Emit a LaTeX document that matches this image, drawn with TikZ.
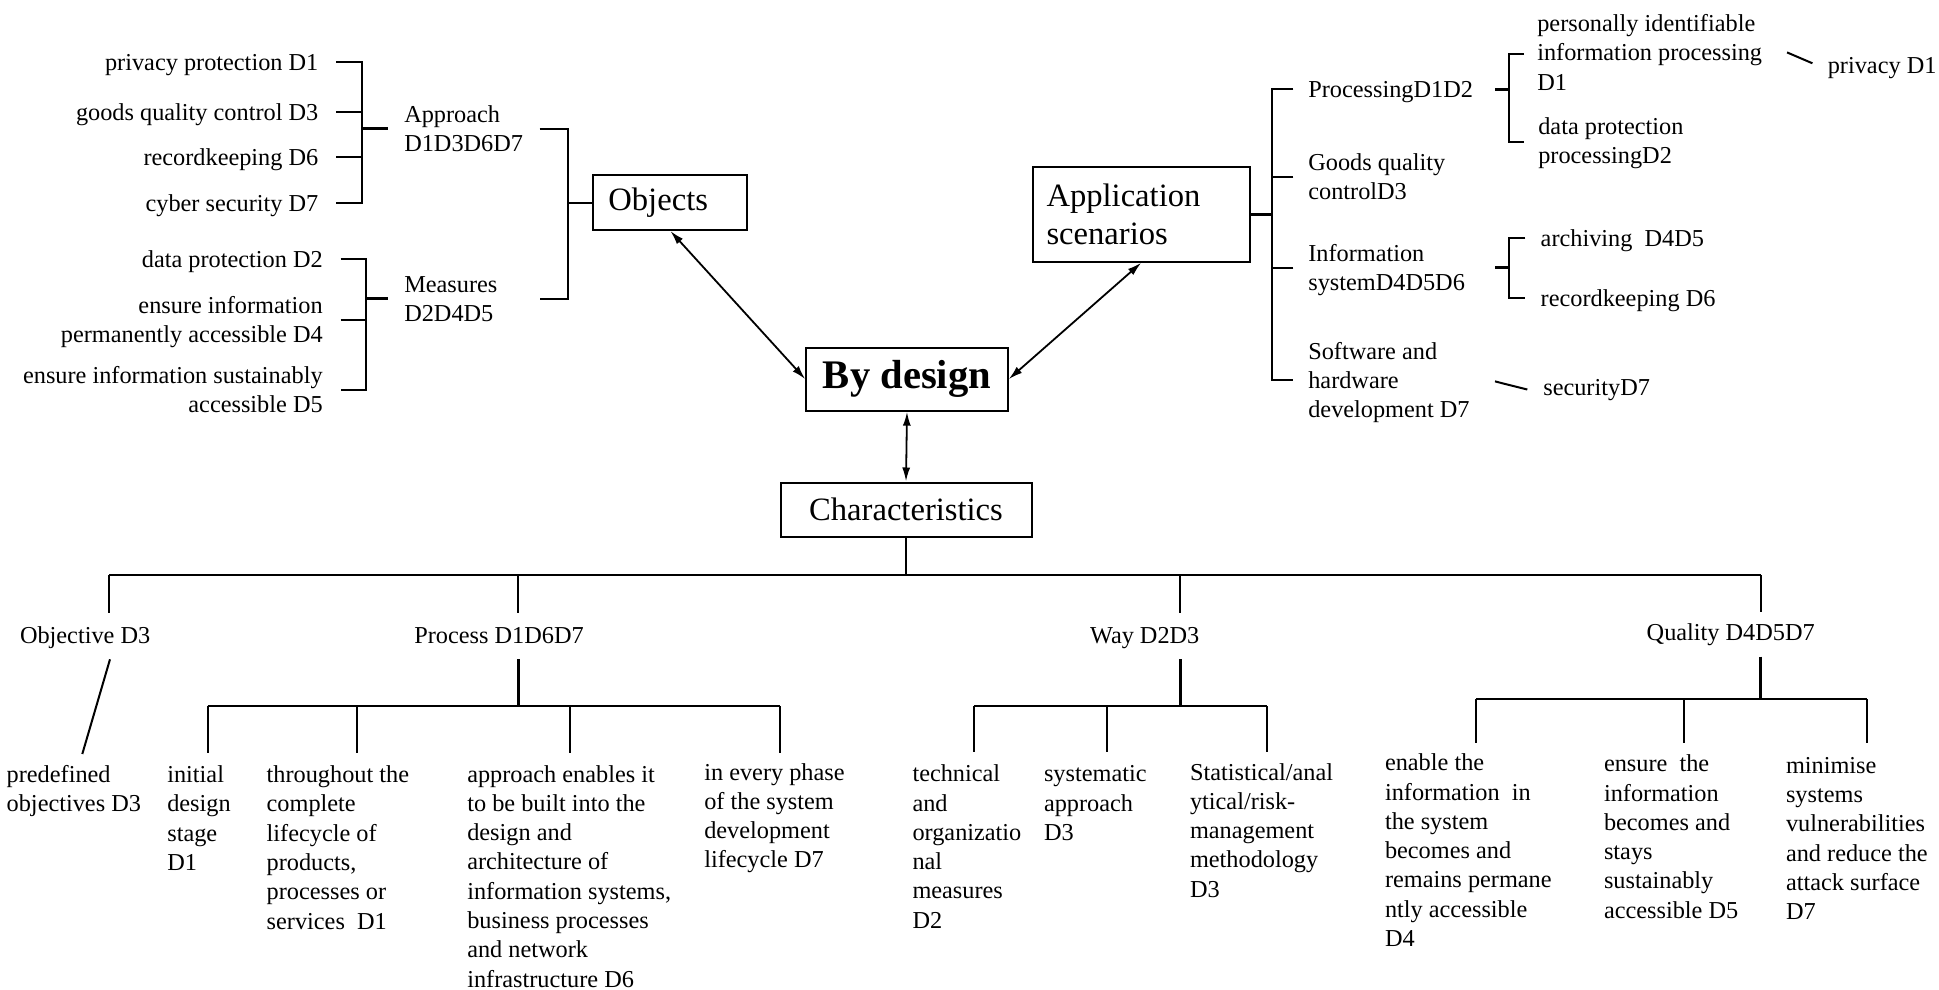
\documentclass[tikz,border=0pt]{standalone}
\usepackage{fontspec}
\setmainfont{Liberation Serif}
\usetikzlibrary{arrows.meta}
\newcommand\bodyfont{\fontsize{24.3}{29.3}\selectfont}
\newcommand\boxfont{\fontsize{32.6}{38.3}\selectfont}
\newcommand\titlefont{\fontsize{40.6}{48}\selectfont\bfseries}
% line strut: 23.05pt above the baseline, 6.25pt below
\newcommand\ls{\rule[-6.25pt]{0pt}{29.3pt}}

\begin{document}
\begin{tikzpicture}[x=1pt,y=-1pt,
  % a text node is placed by the baseline of its first line
  txt/.style={inner sep=0pt, outer sep=0pt, align=left, font=\bodyfont,
    anchor=north west, yshift=23.05pt,
    execute at begin node=\ls, execute at end node=\ls},
  txtr/.style={txt, align=right, anchor=north east},
  box/.style={draw, line width=2pt, inner sep=0pt},
  ln/.style={line width=2pt},
  stubw/.style={line width=3pt},
  busln/.style={line width=2.6pt},
  dblarrow/.style={line width=1.8pt, {Latex[length=14pt,width=8pt]}-{Latex[length=14pt,width=8pt]}},
]
\path[use as bounding box] (0,0) rectangle (1939,990);

% ---------- central boxes ----------
\node[box, font=\boxfont, minimum width=154pt, minimum height=55pt, text width=124pt, align=left] (obj) at (670.4,202.5) {Objects};
\node[box, font=\titlefont, minimum width=201.4pt, minimum height=63pt] (bd) at (907,379.2) {By design};
\node[box, font=\boxfont, minimum width=216.6pt, minimum height=95pt, text width=189.6pt, align=left] (app) at (1141.3,214.2) {Application\\scenarios};
\node[box, font=\boxfont, minimum width=251pt, minimum height=54pt] (ch) at (906,509.5) {Characteristics};

\draw[dblarrow] (obj.south) -- (bd.west);
\draw[dblarrow] (app.south) -- (bd.east);
\draw[dblarrow] (bd.south) -- (ch.north);

% ---------- objects branch ----------
\node[txtr] (l1) at (318.3,70.7) {privacy protection D1};
\node[txtr] (l2) at (318.3,120.7) {goods quality control D3};
\node[txtr] (l3) at (318.3,165.4) {recordkeeping D6};
\node[txtr] (l4) at (318.3,211.7) {cyber security D7};
\node[txtr] (m1) at (322.7,267.5) {data protection D2};
\node[txtr] (m2) at (322.7,313.5) {\ls ensure information\\permanently accessible D4};
\node[txtr] (m3) at (322.7,383.5) {\ls ensure information sustainably\\accessible D5};
\node[txt] (ap) at (404.3,122.3) {\ls Approach\\D1D3D6D7};
\node[txt] (me) at (404.3,292.5) {\ls Measures\\D2D4D5};

\coordinate (aS) at (362.3,0);
\coordinate (mS) at (365.7,0);
\coordinate (oB) at (539.7,0);
\coordinate (oS) at (568,0);

\draw[ln] ([xshift=17.7pt]l1.east) -- (l1.east -| aS) -- (l4.east -| aS) -- ([xshift=17.7pt]l4.east);
\draw[ln] ([xshift=17.7pt]l2.east) -- (l2.east -| aS);
\draw[ln] ([xshift=17.7pt]l3.east) -- (l3.east -| aS);
\draw[stubw] (ap.west -| aS) -- ([xshift=-16pt]ap.west);

\draw[ln] ([xshift=18pt]m1.east) -- (m1.east -| mS) -- (m3.east -| mS) -- ([xshift=18pt]m3.east);
\draw[ln] ([xshift=18pt]m2.east) -- (m2.east -| mS);
\draw[stubw] (me.west -| mS) -- ([xshift=-16pt]me.west);

\draw[ln] (ap.west -| oB) -- (ap.west -| oS) -- (me.west -| oS) -- (me.west -| oB);
\draw[ln] (obj.west -| oS) -- (obj.west);

% ---------- application scenarios branch ----------
\node[txt] (pr) at (1308.3,97.7) {ProcessingD1D2};
\node[txt] (gq) at (1308.3,170.5) {\ls Goods quality\\controlD3};
\node[txt] (is) at (1308.3,261.5) {\ls Information\\systemD4D5D6};
\node[txt] (sw) at (1308.3,359) {\ls Software and\\hardware\\development D7};
\node[txt] (pi) at (1537.3,31.5) {\ls personally identifiable\\information processing\\D1};
\node[txt] (dp) at (1538.3,134) {\ls data protection\\processingD2};
\node[txt] (pv) at (1827.8,74) {privacy D1};
\node[txt] (ar) at (1540.7,246.7) {archiving\ \ D4D5};
\node[txt] (rk) at (1540.7,306.5) {recordkeeping D6};
\node[txt] (sec) at (1543.3,395.5) {securityD7};

\coordinate (rS) at (1271.7,0);
\coordinate (pB) at (1495,0);
\coordinate (pS) at (1509.3,0);

\draw[stubw] (app.east) -- (app.east -| rS);
\draw[ln] ([xshift=-15pt]pr.west) -- (pr.west -| rS) -- (sw.west -| rS) -- ([xshift=-15pt]sw.west);
\draw[ln] ([xshift=-15pt]gq.west) -- (gq.west -| rS);
\draw[ln] ([xshift=-15pt]is.west) -- (is.west -| rS);

\draw[stubw] (pr.east -| pB) -- (pr.east -| pS);
\draw[ln] ([xshift=-13.3pt,yshift=-2pt]pi.west) -- ([yshift=-2pt]pi.west -| pS) -- ([yshift=-1.5pt]dp.west -| pS) -- ([xshift=-14.3pt,yshift=-1.5pt]dp.west);
\draw[ln] ([xshift=25pt]pi.east) -- ([xshift=-15.4pt,yshift=2.3pt]pv.west);

\draw[stubw] (is.west -| pB) -- (is.west -| pS);
\draw[ln] ([xshift=-15.4pt]ar.west) -- (ar.west -| pS) -- (rk.west -| pS) -- ([xshift=-15.4pt]rk.west);

\draw[ln] ([xshift=25.4pt,yshift=-1.5pt]sw.east) -- ([xshift=-16pt,yshift=-2.4pt]sec.west);

% ---------- characteristics branch ----------
\node[txt] (ob3) at (20,643.3) {Objective D3};
\node[txt] (proc) at (414.3,643.3) {Process D1D6D7};
\node[txt] (way) at (1090,643.3) {Way D2D3};
\node[txt] (qual) at (1646.7,640.7) {Quality D4D5D7};

\node[txt] (pre) at (6.7,782.5) {\ls predefined\\objectives D3};
\node[txt] (p1) at (167.3,782.5) {\ls initial\\design\\stage\\D1};
\node[txt] (p2) at (266.7,782.5) {\ls throughout the\\complete\\lifecycle of\\products,\\processes or\\services\ \ D1};
\node[txt] (p3) at (467.3,782) {\ls approach enables it\\to be built into the\\design and\\architecture of\\information systems,\\business processes\\and network\\infrastructure D6};
\node[txt] (p4) at (704.3,780) {\ls in every phase\\of the system\\development\\lifecycle D7};
\node[txt] (w1) at (912.5,781.7) {\ls technical\\and\\organizatio\\nal\\measures\\D2};
\node[txt] (w2) at (1044,781.7) {\ls systematic\\approach\\D3};
\node[txt] (w3) at (1190,780) {\ls Statistical/anal\\ytical/risk-\\management\\methodology\\D3};
\node[txt] (q1) at (1385,770.7) {\ls enable the\\information\ \ in\\the system\\becomes and\\remains permane\\ntly accessible\\D4};
\node[txt] (q2) at (1604,771.7) {\ls ensure\ \ the\\information\\becomes and\\stays\\sustainably\\accessible D5};
\node[txt] (q3) at (1786,773.3) {\ls minimise\\systems\\vulnerabilities\\and reduce the\\attack surface\\D7};

% main bus under Characteristics
\coordinate (bus) at (0,575);
\coordinate (dObj) at (109,612.7);
\coordinate (dPro) at (518.3,612.7);
\coordinate (dWay) at (1180,612.7);
\coordinate (dQua) at (1760.7,611.7);
\draw[ln] (ch.south) -- (ch.south |- bus);
\draw[busln] (dObj |- bus) -- (dQua |- bus);
\draw[ln] (dObj |- bus) -- (dObj);
\draw[ln] (dPro |- bus) -- (dPro);
\draw[ln] (dWay |- bus) -- (dWay);
\draw[ln] (dQua |- bus) -- (dQua);

% objective
\coordinate (oT) at (110,659.3);
\coordinate (oE) at (82.3,754);
\draw[ln] (oT) -- (oE);

% process sub-tree
\coordinate (pT) at (518.3,659.3);
\coordinate (pBus) at (0,706);
\draw[stubw] (pT) -- (pT |- pBus);
\draw[ln] (207.7,706) coordinate (pa) -- (780,706) coordinate (pd);
\coordinate (pb) at (356.7,706);
\coordinate (pc) at (570,706);
\foreach \c in {pa,pb,pc,pd} \draw[ln] (\c) -- ++(0,47);

% way sub-tree
\coordinate (wT) at (1180,659.3);
\coordinate (wBus) at (0,706);
\draw[stubw] (wT) -- (wT |- wBus);
\draw[ln] (974,706) coordinate (wa) -- (1266.7,706) coordinate (wc);
\coordinate (wb) at (1106.7,706);
\foreach \c in {wa,wb,wc} \draw[ln] (\c) -- ++(0,46);

% quality sub-tree
\coordinate (qT) at (1760.7,656.7);
\coordinate (qBus) at (0,699);
\draw[stubw] (qT) -- (qT |- qBus);
\draw[ln] (1476,699) coordinate (qa) -- (1866.7,699) coordinate (qc);
\coordinate (qb) at (1684,699);
\foreach \c in {qa,qb,qc} \draw[ln] (\c) -- ++(0,44);

\end{tikzpicture}
\end{document}
